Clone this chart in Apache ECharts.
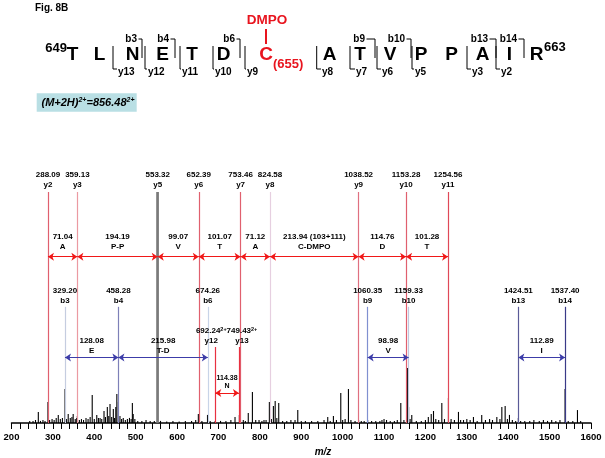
<!DOCTYPE html>
<html><head><meta charset="utf-8">
<script src="https://cdn.jsdelivr.net/npm/echarts@6/dist/echarts.min.js"></script>
<style>html,body{margin:0;padding:0;background:#fff}#c{width:605px;height:458px}</style>
</head><body><div id="c"></div>
<script>
// ---------- DATA ----------
const peakMz = [244,252,258,264.8,270,276,281,288.1,292,298,303,308,313,318,323,329.3,333,337,342,346,349,354,357.5,359.1,364,369,374,380,385,390,395,400,406,410,414,418,423.5,427,431.5,435,438,442,446,449,452,454.5,458.3,462,466,470,475,480,485,489,492,494,498,505,515,525,535,545,553.3,560,575,590,605,620,635,645,651.4,660,673.5,680,692,705,718,730,740,750.5,760,765,772,782,790,798,805,810,815,823,828,832.7,837,841,845.6,855,865,875,885,891.6,900,910,925,940,955,964,970,977.7,985,995.5,1000,1006,1014,1020,1030,1038.5,1045,1052,1060.4,1070,1080,1090,1095,1100,1106,1115,1125,1132,1140.5,1148,1156.6,1159.3,1163,1167,1178,1190,1200,1207,1214,1219.5,1225,1232,1239.6,1246,1255.6,1262,1270,1279.8,1285,1292,1300,1308,1316,1325,1336,1345,1355,1362,1372.5,1380,1384.6,1392.6,1398,1403,1410,1418,1424.5,1430,1440,1452,1462,1475,1485,1495,1505,1515,1525,1537.4,1545,1556,1567.3,1575];
const peakInt = [0.9,0.9,1.3,4.8,0.9,1.3,0.9,9.1,1.3,1.7,1.3,2.2,3.5,1.7,2.2,14.7,1.7,3.9,2.2,2.6,3.9,1.7,2.2,3.0,1.3,1.7,1.3,2.2,1.7,2.6,12.1,1.7,3.5,2.2,2.2,1.7,5.2,2.6,6.9,3.0,8.2,2.6,6.1,2.2,6.9,12.6,9.1,3.0,1.7,2.2,1.3,1.7,2.2,1.7,8.7,3.9,1.7,0.9,0.9,1.3,0.9,0.9,100,0.9,0.6,0.9,0.6,0.9,0.9,1.3,3.9,0.9,3.5,0.9,0.9,0.9,0.9,1.3,2.6,3.5,1.3,0.9,4.3,13.4,1.3,1.3,0.9,1.3,1.3,9.1,1.7,7.4,9.5,2.2,8.7,0.9,0.9,1.3,1.3,5.6,0.9,0.9,0.9,0.9,1.3,2.6,0.9,3.0,1.3,13.0,1.3,1.7,14.7,1.3,0.9,1.3,0.9,0.9,1.3,0.9,0.9,0.9,1.3,1.7,1.3,0.9,0.9,1.3,8.7,1.3,23.8,6.9,1.7,3.5,0.9,0.9,1.3,2.6,3.9,5.2,1.7,1.3,8.7,1.7,10.8,1.7,1.3,4.8,1.3,1.3,1.7,1.3,2.6,0.9,3.5,1.3,1.7,1.3,2.6,1.7,6.9,7.4,1.7,3.5,1.3,0.9,2.2,0.9,0.9,0.9,1.3,0.9,1.3,0.9,1.3,0.9,1.3,14.7,0.9,0.9,5.6,0.9];

const yIonNames = ['y2','y3','y5','y6','y7','y8','y9','y10','y11'];
const yIonMz = [288.09,359.13,553.32,652.39,753.46,824.58,1038.52,1153.28,1254.56];
const bIonNames = ['b3','b4','b6','b9','b10','b13','b14'];
const bIonMz = [329.20,458.28,674.26,1060.35,1159.33,1424.51,1537.40];
const y2pNames = ['y12','y13'];
const y2pMz = [692.24,749.43];

const yDiffVal = ['71.04','194.19','99.07','101.07','71.12','213.94 (103+111)','114.76','101.28'];
const yDiffRes = ['A','P-P','V','T','A','C-DMPO','D','T'];
const bDiffFrom = [329.20,458.28,1060.35,1424.51];
const bDiffTo = [458.28,674.26,1159.33,1537.40];
const bDiffVal = ['128.08','215.98','98.98','112.89'];
const bDiffRes = ['E','T-D','V','I'];
const nDiffVal = '114.38';
const nDiffRes = 'N';

const xTickLabels = [200,300,400,500,600,700,800,900,1000,1100,1200,1300,1400,1500,1600];
const sequence = ['T','L','N','E','T','D','C','A','T','V','P','P','A','I','R'];

// ---------- STYLES / LAYOUT ----------
const FONT = '"Liberation Sans", Arial, Helvetica, sans-serif';
const yIonColors = ['#e0606e','#eb9aa2','#7a7a7a','#e0606e','#e0606e','#e6cfe0','#e07080','#e0606e','#e04858'];
const yIonWidths = [1.2,1.2,2.6,1.2,1.2,1.2,1.2,1.2,1.2];
const bIonColors = ['#c5cde0','#7e80b8','#c8d4e8','#8090d0','#c0c8e0','#5a5a98','#3a3a88'];
const y2pOffsets = [[-4,0],[3,0]];
const Y_TOP = 100, B_TOP = 50.3, Y2P_TOP = 32.9;
const ROW_Y = 72.0, ROW_B = 28.4, ROW_N = 13.0;
const RED = '#f01818', BLUE = '#3c3ca8';

const labelBase = {show:true, fontFamily:FONT, fontWeight:'bold', fontSize:8, color:'#000', lineHeight:10};

const vLines = [];
yIonMz.forEach((m,i)=>vLines.push([
  {coord:[m,0], lineStyle:{color:yIonColors[i], width:yIonWidths[i], type:'solid'},
   label:Object.assign({}, labelBase, {position:'end', distance:2, formatter:m.toFixed(2)+'\n'+yIonNames[i]})},
  {coord:[m,Y_TOP]}]));
bIonMz.forEach((m,i)=>vLines.push([
  {coord:[m,0], lineStyle:{color:bIonColors[i], width:1.2, type:'solid'},
   label:Object.assign({}, labelBase, {position:'end', distance:1, formatter:m.toFixed(2)+'\n'+bIonNames[i]})},
  {coord:[m,B_TOP]}]));
y2pMz.forEach((m,i)=>vLines.push([
  {coord:[m,0], lineStyle:{color:'#e83040', width:1.2, type:'solid'},
   label:Object.assign({}, labelBase, {position:'end', distance:1, offset:y2pOffsets[i],
     formatter:'{n|'+m.toFixed(2)+'}{s|2+}\n{n|'+y2pNames[i]+'}',
     rich:{n:{fontFamily:FONT,fontWeight:'bold',fontSize:8,lineHeight:10},
           s:{fontFamily:FONT,fontWeight:'bold',fontSize:5.5,verticalAlign:'top',lineHeight:10}}})},
  {coord:[m,Y2P_TOP]}]));

const arrows = [];
for (let i=0;i<yIonMz.length-1;i++){
  arrows.push([{coord:[yIonMz[i],ROW_Y], lineStyle:{color:RED,width:1,type:'solid'},
    label:Object.assign({}, labelBase, {position:'insideMiddleTop', distance:5, formatter:yDiffVal[i]+'\n'+yDiffRes[i]}),
    itemStyle:{color:RED}},
    {coord:[yIonMz[i+1],ROW_Y]}]);
}
bDiffFrom.forEach((a,i)=>arrows.push([{coord:[a,ROW_B], lineStyle:{color:BLUE,width:1,type:'solid'},
    label:Object.assign({}, labelBase, {position:'insideMiddleTop', distance:2, formatter:bDiffVal[i]+'\n'+bDiffRes[i]}),
    itemStyle:{color:BLUE}},
    {coord:[bDiffTo[i],ROW_B]}]));
arrows.push([{coord:[y2pMz[0],ROW_N], lineStyle:{color:RED,width:1,type:'solid'},
    label:Object.assign({}, labelBase, {position:'insideMiddleTop', distance:3, fontSize:7, lineHeight:8, formatter:nDiffVal+'\n'+nDiffRes}),
    itemStyle:{color:RED}},
    {coord:[y2pMz[1],ROW_N]}]);

// ---------- HEADER GRAPHICS ----------
const seqX = [72.5,99.5,132.5,162.5,192,223.5,266,329.5,360,390,421,451.5,482.5,509.5,536.5];
const g = [];
function txt(t,x,y,font,fill,align){ g.push({type:'text',silent:true,style:{text:t,x:x,y:y,font:font,fill:fill||'#000',align:align||'center',verticalAlign:'middle'}}); }
function pl(pts,color,w){ g.push({type:'polyline',silent:true,shape:{points:pts},style:{stroke:color||'#000',lineWidth:w||1,fill:null}}); }

txt('Fig. 8B',35,8,'bold 10px '+FONT,'#000','left');
sequence.forEach((r,i)=>txt(r,seqX[i],55,'bold 19px '+FONT, i===6?'#e8141e':'#000'));
txt('649',67,48,'bold 13px '+FONT,'#000','right');
txt('663',544,47,'bold 13px '+FONT,'#000','left');
txt('(655)',273,64,'bold 13px '+FONT,'#e8141e','left');
txt('DMPO',267,20,'bold 13.5px '+FONT,'#e8141e');
pl([[266,29],[266,44]],'#e8141e',2);

const bBr = [['b3',137,142],['b4',169,175],['b6',235,240],['b9',365,375],['b10',405,411],['b13',488,496],['b14',517,524]];
bBr.forEach(b=>{ txt(b[0],b[1],39,'bold 10px '+FONT,'#000','right'); pl([[b[1]+1.5,39],[b[2],39],[b[2],58]],'#000',1); });
const yBr = [['y13',118,113],['y12',148,145],['y11',182,180],['y10',215,213],['y9',247,245],['y8',322,316.7],['y7',356,350],['y6',382,377],['y5',415,412],['y3',472,467],['y2',501,496]];
yBr.forEach(y=>{ txt(y[0],y[1],72,'bold 10px '+FONT,'#000','left'); pl([[y[2],46],[y[2],69],[y[1]-1,69]],'#000',1); });

g.push({type:'rect',silent:true,shape:{x:36.7,y:93.3,width:100,height:18.4},style:{fill:'#b9dfe4'}});
g.push({type:'text',silent:true,style:{x:88,y:102.5,align:'center',verticalAlign:'middle',
  text:'{n|(M+2H)}{s|2+}{n|=856.48}{s|2+}',
  rich:{n:{font:'italic bold 11px '+FONT,fill:'#000'},s:{font:'italic bold 7px '+FONT,fill:'#000',verticalAlign:'top'}}}});
txt('m/z',323,452,'italic bold 10px '+FONT,'#000');

// ---------- CHART ----------
const chart = echarts.init(document.getElementById('c'), null, {renderer:'canvas'});
chart.setOption({
  animation:false,
  backgroundColor:'#fff',
  textStyle:{fontFamily:FONT},
  grid:{left:11.5,right:14,top:192,bottom:35,containLabel:false},
  xAxis:{type:'value',min:200,max:1600,interval:20,
    axisLine:{onZero:false,lineStyle:{color:'#000',width:1.5}},
    axisTick:{show:true,inside:false,length:6,lineStyle:{color:'#000',width:1}},
    axisLabel:{margin:9,fontSize:9.5,fontWeight:'bold',color:'#000',fontFamily:FONT,
      formatter:v=>xTickLabels.indexOf(Math.round(v))>=0?String(Math.round(v)):''},
    splitLine:{show:false}},
  yAxis:{type:'value',min:0,max:100,show:false},
  graphic:g,
  series:[
    {type:'bar',data:peakMz.map((m,i)=>[m,peakInt[i]]),barWidth:1.1,itemStyle:{color:'#000'},silent:true,z:2},
    {type:'line',data:[],z:3,markLine:{silent:true,symbol:'none',animation:false,precision:2,data:vLines}},
    {type:'line',data:[],z:4,markLine:{silent:true,symbol:['arrow','arrow'],symbolSize:6,animation:false,precision:2,data:arrows}}
  ]
});
</script></body></html>
